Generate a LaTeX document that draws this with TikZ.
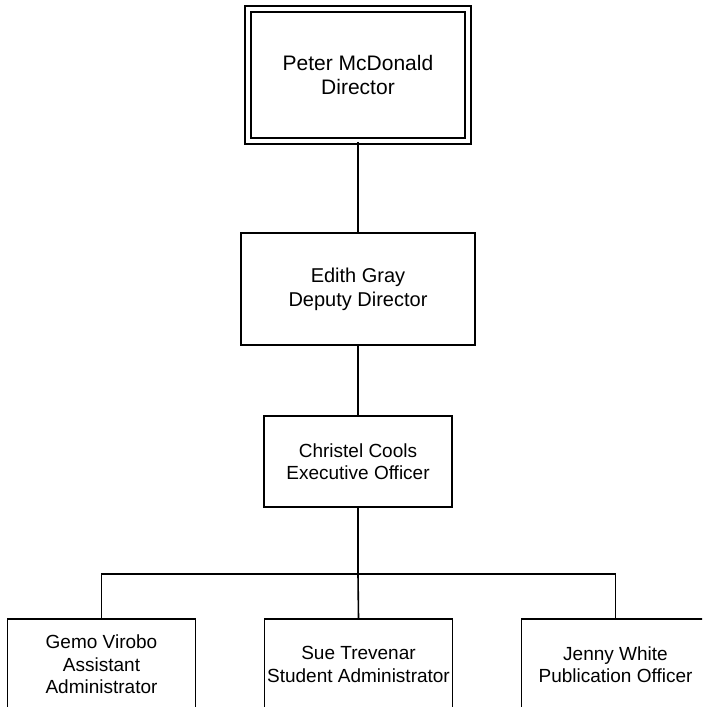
\documentclass[tikz,border=0pt]{standalone}
\usepackage{fontspec}
\setmainfont{Liberation Sans}
\begin{document}
\begin{tikzpicture}[x=1pt,y=-1pt,
  box/.style={draw=black, line width=1.6pt, inner sep=0pt, align=center,
    font=\fontsize{19}{22.5}\selectfont, minimum width=188pt, minimum height=91pt},
  midbox/.style={box, font=\fontsize{20}{24}\selectfont,
    minimum width=234pt, minimum height=112pt},
  topbox/.style={box, double, double distance=4pt, line width=1.8pt,
    font=\fontsize{21}{24.3}\selectfont, minimum width=220pt, minimum height=132pt},
  link/.style={draw=black, line width=1.6pt},
  trunk/.style={link, line width=2.6pt}]
\useasboundingbox (0,0) rectangle (702,707);
\clip (0,0) rectangle (702,707);

% people
\node[topbox] (dir) at (358,75) {Peter McDonald\\Director};
\node[midbox] (dep) at (358,289) {Edith Gray\\Deputy Director};
\node[box] (exo) at (358,461.5) {Christel Cools\\Executive Officer};
\node[box] (gv) at (101.5,664.5) {Gemo Virobo\\Assistant\\Administrator};
\node[box] (st) at (358.5,664.5) {Sue Trevenar\\Student Administrator};
\node[box] (jw) at (615.5,664.5) {Jenny White\\Publication Officer};

% reporting lines
\coordinate (bus) at (358,574);
\draw[link] (dir) -- (dep);
\draw[link] (dep) -- (exo);
\draw[trunk] (exo.south) -- (bus);
\draw[link] (bus) -- (st.north);
\draw[link] (gv.north) |- (bus) -| (jw.north);
\end{tikzpicture}
\end{document}
